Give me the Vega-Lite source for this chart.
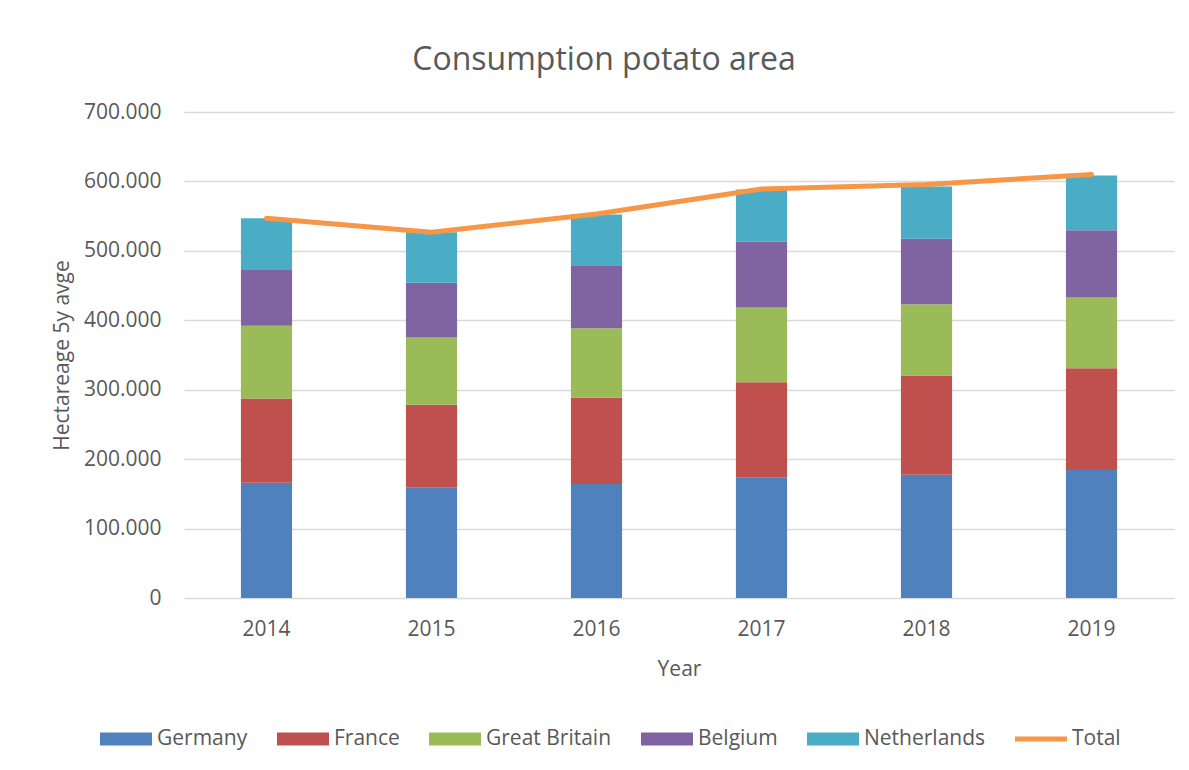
{
  "$schema": "https://vega.github.io/schema/vega-lite/v6.json",
  "width": 990,
  "height": 486,
  "autosize": {"type": "none"},
  "padding": {"left": 184, "top": 112, "right": 15, "bottom": 172},
  "background": "white",
  "config": {
    "font": "Open Sans",
    "view": {"stroke": null}
  },
  "title": {
    "text": "Consumption potato area",
    "fontSize": 32,
    "fontWeight": "normal",
    "color": "#595959",
    "dx": -75,
    "offset": 24
  },
  "datasets": {
    "bars": [
      {"year": "2014", "country": "Germany", "value": 166000},
      {"year": "2014", "country": "France", "value": 121500},
      {"year": "2014", "country": "Great Britain", "value": 104800},
      {"year": "2014", "country": "Belgium", "value": 80200},
      {"year": "2014", "country": "Netherlands", "value": 74500},
      {"year": "2015", "country": "Germany", "value": 159400},
      {"year": "2015", "country": "France", "value": 119100},
      {"year": "2015", "country": "Great Britain", "value": 96600},
      {"year": "2015", "country": "Belgium", "value": 78800},
      {"year": "2015", "country": "Netherlands", "value": 72900},
      {"year": "2016", "country": "Germany", "value": 164300},
      {"year": "2016", "country": "France", "value": 124300},
      {"year": "2016", "country": "Great Britain", "value": 99900},
      {"year": "2016", "country": "Belgium", "value": 90800},
      {"year": "2016", "country": "Netherlands", "value": 73000},
      {"year": "2017", "country": "Germany", "value": 173300},
      {"year": "2017", "country": "France", "value": 137400},
      {"year": "2017", "country": "Great Britain", "value": 107600},
      {"year": "2017", "country": "Belgium", "value": 94700},
      {"year": "2017", "country": "Netherlands", "value": 75300},
      {"year": "2018", "country": "Germany", "value": 177700},
      {"year": "2018", "country": "France", "value": 142600},
      {"year": "2018", "country": "Great Britain", "value": 102700},
      {"year": "2018", "country": "Belgium", "value": 94300},
      {"year": "2018", "country": "Netherlands", "value": 75300},
      {"year": "2019", "country": "Germany", "value": 184400},
      {"year": "2019", "country": "France", "value": 146400},
      {"year": "2019", "country": "Great Britain", "value": 101900},
      {"year": "2019", "country": "Belgium", "value": 97000},
      {"year": "2019", "country": "Netherlands", "value": 78800}
    ],
    "total": [
      {"year": "2014", "total": 547000},
      {"year": "2015", "total": 526800},
      {"year": "2016", "total": 553000},
      {"year": "2017", "total": 589000},
      {"year": "2018", "total": 595500},
      {"year": "2019", "total": 610000}
    ]
  },
  "layer": [
    {
      "data": {"name": "bars"},
      "transform": [
        {"calculate": "indexof(['Germany','France','Great Britain','Belgium','Netherlands'], datum.country)", "as": "k"}
      ],
      "mark": {"type": "bar"},
      "encoding": {
        "x": {
          "field": "year",
          "type": "nominal",
          "scale": {"paddingInner": 0.69, "paddingOuter": 0.345},
          "title": "Year",
          "axis": {
            "labelAngle": 0,
            "domain": false,
            "ticks": false,
            "grid": false,
            "labelPadding": 20,
            "labelFontSize": 21,
            "labelColor": "#595959",
            "titleFontSize": 21,
            "titleFontWeight": "normal",
            "titleColor": "#595959",
            "titlePadding": 19
          }
        },
        "y": {
          "field": "value",
          "type": "quantitative",
          "stack": "zero",
          "scale": {"domain": [0, 700000]},
          "title": "Hectareage 5y avge",
          "axis": {
            "values": [0, 100000, 200000, 300000, 400000, 500000, 600000, 700000],
            "labelExpr": "replace(format(datum.value, ','), ',', '.')",
            "domain": false,
            "ticks": false,
            "grid": true,
            "gridColor": "#d9d9d9",
            "gridWidth": 1.3,
            "labelPadding": 23,
            "labelFontSize": 21,
            "labelColor": "#595959",
            "titleFontSize": 21,
            "titleFontWeight": "normal",
            "titleColor": "#595959",
            "titlePadding": 11
          }
        },
        "color": {
          "field": "country",
          "type": "nominal",
          "scale": {
            "domain": ["Germany", "France", "Great Britain", "Belgium", "Netherlands", "Total"],
            "range": ["#4f81bd", "#c0504d", "#9bbb59", "#8064a2", "#4bacc6", "#f79646"]
          },
          "legend": {
            "title": null,
            "orient": "none",
            "legendX": -84,
            "legendY": 601,
            "direction": "horizontal",
            "symbolSize": 2704,
            "symbolType": "M-1,-0.25L1,-0.25L1,0.25L-1,0.25Z",
            "symbolStrokeWidth": 0,
            "labelFontSize": 21,
            "labelColor": "#595959",
            "labelOffset": 5,
            "columnPadding": 29,
            "encode": {
              "symbols": {
                "update": {
                  "shape": [
                    {"test": "datum.value === 'Total'", "value": "M-1,-0.1L1,-0.1L1,0.1L-1,0.1Z"},
                    {"value": "M-1,-0.25L1,-0.25L1,0.25L-1,0.25Z"}
                  ],
                  "fill": {"scale": "color", "field": "value"},
                  "strokeWidth": {"value": 0}
                }
              }
            }
          }
        },
        "order": {"field": "k", "type": "quantitative", "sort": "ascending"}
      }
    },
    {
      "data": {"name": "total"},
      "mark": {"type": "line", "strokeWidth": 5, "strokeCap": "round", "strokeJoin": "round"},
      "encoding": {
        "x": {"field": "year", "type": "nominal"},
        "y": {"field": "total", "type": "quantitative"},
        "color": {"datum": "Total"}
      }
    }
  ]
}
